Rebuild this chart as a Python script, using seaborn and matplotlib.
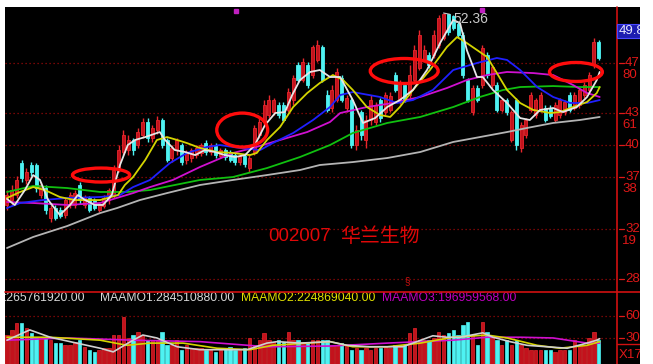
import numpy as np
import pandas as pd
import matplotlib
matplotlib.use("Agg")
import matplotlib.pyplot as plt
import matplotlib.transforms as mtrans
from matplotlib.patches import Ellipse, Rectangle
from matplotlib.lines import Line2D
import seaborn as sns

sns.set_theme(style="dark")
plt.rcParams['font.family'] = ['Liberation Sans', 'Noto Sans CJK SC', 'DejaVu Sans']

# ---------------- data (prices) ----------------
OPEN = [34.78, 35.23, 35.69, 38.62, 37.07, 38.44, 38.44, 35.69, 36.33, 33.59,
        34.50, 34.32, 33.86, 34.78, 34.78, 36.61, 34.78, 35.42, 35.23, 34.32,
        34.68, 35.23, 35.69, 37.98, 39.63, 39.81, 40.73, 40.27, 41.19, 42.38,
        40.91, 41.64, 42.56, 40.73, 39.08, 39.81, 40.27, 38.90, 39.08, 39.35,
        39.54, 40.45, 39.63, 40.18, 39.26, 39.81, 39.63, 39.35, 38.71, 39.26,
        38.16, 39.63, 41.19, 42.38, 43.02, 43.29, 43.93, 43.93, 43.48, 44.39,
        47.60, 46.22, 47.60, 46.68, 48.06, 49.25, 44.85, 43.66, 44.39, 46.41,
        43.66, 44.39, 40.27, 43.29, 40.73, 42.56, 42.38, 44.39, 43.29, 43.48,
        46.68, 44.39, 45.77, 44.85, 46.22, 47.32, 48.06, 48.51, 48.51, 49.43,
        50.07, 52.27, 52.08, 51.35, 50.34, 46.22, 43.29, 45.49, 45.77, 48.51,
        45.77, 45.77, 43.48, 44.39, 40.73, 44.39, 40.00, 41.19, 43.48, 43.02,
        43.48, 43.66, 43.66, 42.56, 43.02, 43.29, 44.85, 43.66, 43.93, 44.85,
        45.31, 47.60, 49.70]
CLOSE = [35.69, 36.15, 37.07, 37.25, 37.80, 37.80, 36.33, 36.61, 34.32, 34.50,
         33.59, 33.77, 35.23, 35.69, 35.87, 35.23, 35.42, 34.32, 34.50, 34.87,
         35.42, 36.15, 37.98, 39.81, 41.19, 40.73, 39.81, 41.46, 42.38, 40.91,
         41.83, 42.56, 40.27, 38.90, 40.00, 40.73, 38.71, 39.63, 39.81, 40.00,
         40.27, 39.63, 40.27, 39.35, 39.81, 39.17, 38.90, 38.71, 39.26, 38.53,
         39.08, 41.83, 42.38, 43.93, 44.39, 44.39, 43.02, 42.56, 45.12, 46.41,
         46.22, 47.87, 45.77, 49.25, 49.43, 46.22, 43.48, 45.31, 46.96, 44.39,
         44.57, 40.27, 41.64, 41.19, 42.56, 44.39, 43.93, 42.74, 44.85, 44.76,
         45.31, 46.04, 44.39, 46.68, 48.97, 50.34, 48.97, 47.60, 50.34, 51.90,
         52.27, 50.62, 50.99, 50.34, 46.68, 44.39, 45.49, 44.39, 49.15, 46.68,
         47.41, 43.48, 44.39, 43.29, 43.29, 40.27, 42.10, 42.56, 44.85, 44.39,
         44.85, 42.56, 42.93, 43.93, 44.39, 44.21, 43.48, 44.85, 45.31, 45.77,
         46.68, 49.70, 48.24]
HIGH = [36.15, 36.61, 37.43, 38.90, 38.16, 38.71, 38.62, 36.88, 36.61, 34.78,
        34.78, 34.59, 35.42, 35.97, 36.15, 36.88, 35.69, 35.60, 35.42, 35.05,
        35.69, 36.33, 38.44, 40.27, 41.64, 41.19, 40.91, 41.83, 42.74, 42.74,
        42.10, 42.93, 42.74, 40.91, 40.27, 40.91, 40.45, 39.81, 40.00, 40.27,
        40.45, 40.73, 40.45, 40.45, 40.00, 40.00, 39.81, 39.63, 39.45, 39.45,
        39.35, 42.10, 42.74, 44.39, 44.85, 44.57, 44.21, 44.21, 45.49, 46.68,
        47.87, 48.24, 47.87, 49.43, 49.89, 49.43, 45.31, 45.77, 47.32, 46.68,
        44.85, 44.57, 42.10, 43.48, 43.02, 44.85, 44.21, 44.57, 45.12, 45.12,
        46.96, 46.22, 46.04, 47.60, 49.43, 50.80, 49.43, 48.79, 50.80, 52.18,
        52.36, 52.27, 52.18, 51.54, 50.62, 46.41, 45.77, 45.77, 49.43, 48.79,
        47.60, 46.04, 44.57, 44.57, 43.48, 44.57, 42.38, 42.74, 45.12, 44.57,
        45.12, 43.93, 43.93, 44.21, 44.57, 44.39, 45.12, 45.12, 45.49, 46.04,
        46.96, 50.07, 49.89]
LOW = [34.32, 34.78, 35.42, 36.88, 36.70, 37.43, 35.97, 35.42, 33.95, 33.22,
       33.40, 33.59, 33.59, 34.50, 34.50, 34.87, 34.50, 34.13, 34.32, 34.13,
       34.50, 34.87, 35.42, 37.80, 39.35, 39.35, 39.35, 40.00, 40.91, 40.55,
       40.55, 41.28, 40.00, 38.71, 38.71, 39.35, 38.44, 38.53, 38.71, 39.08,
       39.26, 39.35, 39.35, 39.08, 39.08, 38.90, 38.71, 38.44, 38.44, 38.26,
       37.80, 39.35, 40.91, 42.10, 42.74, 43.02, 42.74, 42.38, 43.29, 43.93,
       46.04, 46.04, 45.49, 46.41, 47.87, 46.04, 43.29, 43.29, 44.21, 44.21,
       43.29, 40.00, 39.81, 40.73, 40.00, 42.10, 42.10, 42.38, 43.02, 43.29,
       45.12, 44.03, 44.21, 44.57, 46.04, 47.14, 47.87, 47.32, 48.24, 49.15,
       49.89, 50.34, 50.80, 50.07, 46.41, 44.21, 43.02, 44.21, 45.49, 46.41,
       45.49, 43.29, 43.29, 43.02, 40.55, 39.81, 39.63, 40.91, 43.29, 42.74,
       43.29, 42.38, 42.74, 42.38, 42.74, 43.02, 43.29, 43.48, 43.66, 44.57,
       45.12, 47.32, 48.06]
VOLUME = [34, 41, 50, 50, 44, 37, 30, 31, 30, 27,
          23, 23, 20, 20, 25, 27, 18, 14, 11, 14,
          16, 16, 34, 34, 59, 30, 34, 38, 34, 27,
          27, 27, 38, 20, 20, 27, 14, 20, 16, 16,
          16, 14, 14, 11, 14, 16, 18, 14, 14, 16,
          30, 20, 27, 37, 27, 25, 27, 25, 38, 27,
          27, 25, 25, 27, 27, 27, 27, 20, 20, 23,
          20, 14, 16, 14, 16, 14, 16, 16, 18, 16,
          20, 20, 20, 37, 44, 27, 27, 27, 30, 38,
          34, 37, 41, 34, 48, 52, 34, 20, 52, 38,
          30, 27, 20, 27, 20, 27, 20, 16, 14, 14,
          14, 14, 14, 11, 14, 14, 14, 27, 20, 20,
          30, 38, 27]

# moving-average curves (candle index, value)
MA5_IDX = [0, 1.6, 3.7, 5.4, 6.8, 8.5, 10.9, 13.0, 14.6, 16.1, 18.1, 19.8, 21.6, 23.3,
           24.9, 26.4, 28.5, 31.5, 32.6, 34.6, 36.7, 38.8, 40.8, 42.9, 44.9, 47.0, 49.1,
           51.1, 53.2, 55.3, 57.3, 58.8, 60.4, 62.5, 64.5, 66.6, 68.7, 71.3, 73.4, 75.9,
           78.4, 81.0, 83.7, 86.6, 89.3, 92.0, 93.4, 94.8, 96.9, 98.1, 100.2, 103.1,
           105.8, 107.8, 109.9, 112.6, 114.6, 117.5, 119.6, 121.6, 122.2]
MA5_VAL = [35.33, 34.78, 36.15, 37.52, 37.07, 35.23, 33.86, 34.78, 35.69, 35.23, 34.78,
           34.78, 35.69, 38.44, 40.27, 40.73, 41.00, 41.46, 40.73, 39.81, 39.63, 39.35,
           39.81, 39.63, 39.35, 39.17, 39.35, 40.27, 42.10, 43.20, 43.29, 44.85, 46.22,
           46.96, 47.14, 46.50, 46.50, 44.39, 42.29, 42.74, 43.75, 44.39, 45.31, 47.14,
           49.61, 51.72, 51.44, 48.97, 46.50, 46.50, 45.31, 44.12, 42.74, 42.56, 43.48,
           43.66, 43.29, 43.75, 44.67, 46.22, 46.96]
MA10_IDX = [0, 2.7, 5.4, 7.8, 10.9, 14.0, 19.2, 22.9, 24.3, 26.0, 28.5, 30.9, 33.0, 35.1,
            37.1, 39.8, 43.3, 46.6, 50.1, 51.5, 53.6, 56.3, 59.0, 61.9, 64.5, 67.2, 69.3,
            71.3, 74.2, 76.9, 79.0, 81.0, 83.7, 87.2, 90.7, 92.8, 94.8, 96.9, 99.0, 101.0,
            103.1, 105.8, 108.5, 112.0, 114.0, 116.7, 119.6, 121.6, 122.2]
MA10_VAL = [35.42, 35.97, 36.42, 36.15, 35.51, 35.23, 35.23, 35.69, 36.61, 37.34, 38.90,
            40.73, 41.00, 40.73, 40.45, 40.00, 39.63, 39.54, 39.35, 39.54, 40.73, 41.92,
            43.75, 45.03, 45.95, 46.68, 46.22, 45.31, 43.75, 43.02, 42.84, 43.75, 45.31,
            47.14, 49.25, 50.16, 49.61, 48.97, 48.33, 46.86, 45.31, 44.12, 43.48, 43.20,
            43.29, 43.75, 44.21, 45.03, 45.58]
MA20_IDX = [0, 2.7, 7.4, 12.4, 19.2, 23.3, 26.0, 29.5, 33.6, 37.1, 41.2, 43.9, 48.0, 52.2,
            54.8, 59.0, 63.1, 66.6, 68.7, 71.3, 76.9, 80.4, 83.7, 87.8, 92.0, 96.9, 101.0,
            103.1, 105.8, 109.3, 112.6, 116.1, 119.6, 122.2]
MA20_VAL = [34.50, 34.96, 35.23, 35.42, 35.51, 35.69, 36.42, 37.07, 38.62, 39.54, 40.09,
            40.27, 40.00, 39.81, 40.45, 41.37, 42.56, 43.75, 44.85, 45.12, 44.67, 44.12,
            44.39, 45.31, 47.14, 47.78, 48.24, 48.06, 47.14, 45.58, 44.67, 44.12, 44.12,
            44.39]
MA30_IDX = [0, 5.4, 12.4, 19.2, 23.3, 26.0, 29.5, 34.2, 39.8, 46.6, 50.7, 56.3, 61.9, 66.6,
            68.7, 74.2, 79.6, 85.2, 90.7, 94.8, 99.0, 103.1, 108.5, 112.6, 116.7, 119.6,
            122.2]
MA30_VAL = [35.05, 34.96, 34.78, 34.96, 35.51, 35.87, 36.42, 37.07, 38.26, 39.54, 40.00,
            40.73, 41.46, 42.38, 43.20, 43.75, 44.12, 44.67, 45.49, 46.22, 46.68, 46.96,
            46.86, 46.68, 45.77, 45.03, 44.67]
MA60_IDX = [0, 5.4, 12.4, 19.2, 24.7, 29.5, 33.6, 39.8, 46.6, 53.6, 60.4, 66.6, 71.3, 78.4,
            85.2, 92.0, 97.5, 102.3, 105.8, 112.6, 118.1, 122.2]
MA60_VAL = [35.97, 36.52, 36.33, 35.97, 35.97, 36.15, 36.52, 37.07, 37.34, 38.16, 39.17,
            40.27, 41.37, 42.29, 42.84, 43.75, 44.67, 45.31, 45.58, 45.67, 45.58, 45.58]
MA120_IDX = [0, 5.4, 12.4, 19.2, 22.7, 27.4, 33.0, 39.8, 46.6, 53.6, 60.4, 64.5, 71.3, 78.4,
             85.2, 92.0, 97.5, 103.1, 107.2, 112.6, 118.1, 122.2]
MA120_VAL = [30.84, 31.85, 32.85, 34.04, 34.50, 35.23, 35.87, 36.61, 37.07, 37.52, 37.98,
             38.44, 38.71, 39.08, 39.63, 40.55, 41.00, 41.46, 41.83, 42.29, 42.56, 42.84]

VMA1_IDX = [0, 4.7, 8.9, 13.0, 19.2, 21.9, 26.0, 28.0, 30.9, 35.1, 39.8, 45.4, 49.5, 53.6,
            55.7, 60.4, 66.6, 70.1, 74.8, 81.6, 84.5, 87.8, 90.7, 93.4, 98.1, 100.2, 103.7,
            107.2, 111.3, 115.5, 119.6, 121.6, 122.2]
VMA1_VAL = [27, 41, 31, 25, 16, 11, 27, 34, 30, 18, 14, 14, 14, 23, 25, 23, 25, 20, 18, 18,
            25, 33, 31, 31, 37, 31, 25, 20, 18, 16, 23, 27, 29]
VMA2_IDX = [0, 8.9, 19.2, 24.7, 29.5, 36.3, 43.3, 50.1, 54.8, 66.6, 71.3, 78.4, 85.2, 92.0,
            99.0, 103.1, 109.3, 114.0, 119.6, 122.2]
VMA2_VAL = [31, 31, 27, 20, 23, 23, 16, 14, 20, 25, 18, 18, 23, 31, 34, 30, 20, 16, 20, 25]
VMA3_IDX = [0, 12.4, 26.0, 39.8, 53.6, 66.6, 78.4, 85.2, 92.0, 99.0, 105.8, 112.6, 119.6, 122.2]
VMA3_VAL = [27, 30, 27, 25, 18, 19, 23, 25, 27, 31, 31, 30, 23, 23]

# price-axis labels (as shown, truncated by the screenshot)
MAIN_TICK_PRICES = [47.80, 43.20, 40.27, 37.38, 32.58, 28.00]
MAIN_TICK_TOP = ["47", "43", "40", "37", "32", "28"]
MAIN_TICK_BOTTOM = ["80", "61", "", "38", "19", ""]
VOL_TICKS = [60, 30]
VOL_TICK_LABELS = ["60", "30"]

# annotations
ELLIPSE_IDX = [19.4, 48.5, 81.9, 117.3]
ELLIPSE_PRICE = [37.52, 41.64, 47.05, 46.96]
ELLIPSE_W = [11.8, 10.5, 14.0, 10.9]
ELLIPSE_H = [1.28, 3.11, 2.29, 1.74]
HIGH_LABEL = "52.36"
STOCK_CODE = "002007"
STOCK_NAME = "华兰生物"
TITLE_POS = (53.8, 68.7, 31.85)   # code index, name index, price level
LEGEND_TEXTS = [":265761920.00", "MAAMO1:284510880.00", "MAAMO2:224869040.00",
                "MAAMO3:196959568.00"]
LEGEND_COLORS = ["#d8d8d8", "#d8d8d8", "#e0e000", "#c000c0"]
LAST_PRICE_LABEL = "49.8"

# ---------------- layout ----------------
W, H = 653, 364
DPI = 100
fig = plt.figure(figsize=(W / DPI, H / DPI), dpi=DPI, facecolor="white")


def fx(px):
    return px / W


def fy(py):
    return 1 - py / H


fig.add_artist(Rectangle((fx(5), 0), fx(640) - fx(5), fy(7), transform=fig.transFigure,
                         facecolor="black", edgecolor="none", zorder=-5))

ax = fig.add_axes([fx(5), fy(292), fx(617) - fx(5), (292 - 7) / H])
axv = fig.add_axes([fx(5), 0, fx(617) - fx(5), (364 - 292) / H])
for a in (ax, axv):
    a.set_facecolor("black")
    for s in a.spines.values():
        s.set_visible(False)
    a.set_xticks([])
    a.set_yticks([])
    a.grid(False)

N = len(CLOSE)
idx = np.arange(N)
ax.set_xlim(-0.41, 125.77)
ax.set_ylim(26.81, 52.91)
axv.set_xlim(-0.41, 125.77)
VOL_FLOOR = -5.5
axv.set_ylim(VOL_FLOOR, 92.7)

RED = "#c3121c"
RED_EDGE = "#e8262c"
CYAN = "#4ef2f2"
GRID_RED = "#9a0a0a"
LABEL_RED = "#e01818"

o = np.array(OPEN)
c = np.array(CLOSE)
up = c >= o
colors = np.where(up, RED, CYAN)
edges = np.where(up, RED_EDGE, CYAN)

# grid lines
for p in MAIN_TICK_PRICES:
    ax.axhline(p, color=GRID_RED, lw=0.9, ls=(0, (1, 2.2)), zorder=1)
for v in VOL_TICKS:
    axv.axhline(v, color=GRID_RED, lw=0.9, ls=(0, (1, 2.2)), zorder=1)

# candles
ax.vlines(idx, LOW, HIGH, colors=edges, lw=1.0, zorder=3)
ax.bar(idx, c - o, bottom=o, width=0.62, color=colors, edgecolor=edges, lw=0.6, zorder=4)

# moving averages via seaborn
ma_specs = [
    (MA120_IDX, MA120_VAL, "#b4b4b4"),
    (MA60_IDX, MA60_VAL, "#10c010"),
    (MA30_IDX, MA30_VAL, "#d010d0"),
    (MA20_IDX, MA20_VAL, "#2020ff"),
    (MA10_IDX, MA10_VAL, "#d4d400"),
    (MA5_IDX, MA5_VAL, "#e6e6e6"),
]
for xs, ys, col in ma_specs:
    df = pd.DataFrame({"i": xs, "v": ys})
    sns.lineplot(data=df, x="i", y="v", ax=ax, color=col, lw=1.3, legend=False,
                 estimator=None, sort=False, zorder=5)

# ellipses
for ex, ey, ew, eh in zip(ELLIPSE_IDX, ELLIPSE_PRICE, ELLIPSE_W, ELLIPSE_H):
    ax.add_patch(Ellipse((ex, ey), ew, eh, fill=False, edgecolor="#ff0c0c", lw=2.4, zorder=8))

# high label
hi_i = int(np.argmax(HIGH))
ax.annotate(HIGH_LABEL, xy=(hi_i, HIGH[hi_i]), xytext=(7, -4), textcoords="offset points",
            color="#c8c8c8", fontsize=10, va="center", ha="left", zorder=9,
            arrowprops=dict(arrowstyle="-", color="#c8c8c8", lw=0.8, shrinkA=0, shrinkB=0))
ax.plot([47.2, 97.9], [52.54, 52.63], ls="none", marker="s", ms=2.5, color="#c020c0", zorder=9)

# stock code and name
ax.text(TITLE_POS[0], TITLE_POS[2], STOCK_CODE, color="#e00808", fontsize=13.4, va="center",
        ha="left", family=["Liberation Sans", "DejaVu Sans"], zorder=9)
ax.text(TITLE_POS[1], TITLE_POS[2], STOCK_NAME, color="#e00808", fontsize=14.3, va="center",
        ha="left", family=["Noto Sans CJK SC", "DejaVu Sans"], zorder=9)
ax.text(82.5, 27.8, "§", color="#d01010", fontsize=7, va="center", ha="center", zorder=9)

# right-side price labels
bt = mtrans.blended_transform_factory(ax.transAxes, ax.transData)
for p, t1, t2 in zip(MAIN_TICK_PRICES, MAIN_TICK_TOP, MAIN_TICK_BOTTOM):
    ax.plot([(619 - 5) / 612, (624 - 5) / 612], [p, p], transform=bt, color=LABEL_RED,
            lw=0.9, clip_on=False)
    ax.text((625 - 5) / 612, p, t1, transform=bt, color=LABEL_RED, fontsize=9.5,
            va="center", ha="left", clip_on=False)
    if t2:
        ax.annotate(t2, xy=((622 - 5) / 612, p), xycoords=bt, xytext=(0, -8.6),
                    textcoords="offset points", color=LABEL_RED, fontsize=9.5,
                    va="center", ha="left", annotation_clip=False)

btv = mtrans.blended_transform_factory(axv.transAxes, axv.transData)
for v, t in zip(VOL_TICKS, VOL_TICK_LABELS):
    axv.plot([(619 - 5) / 612, (624 - 5) / 612], [v, v], transform=btv, color=LABEL_RED,
             lw=0.9, clip_on=False)
    axv.text((625 - 5) / 612, v, t, transform=btv, color=LABEL_RED, fontsize=9.5,
             va="center", ha="left", clip_on=False)

# volume bars
vol = np.array(VOLUME, dtype=float)
axv.bar(idx, vol - VOL_FLOOR, bottom=VOL_FLOOR, width=0.7, color=colors, edgecolor=edges,
        lw=0.5, zorder=3)
for xs, ys, col in [(VMA3_IDX, VMA3_VAL, "#d010d0"), (VMA2_IDX, VMA2_VAL, "#d4d400"),
                    (VMA1_IDX, VMA1_VAL, "#d0d0d0")]:
    df = pd.DataFrame({"i": xs, "v": ys})
    sns.lineplot(data=df, x="i", y="v", ax=axv, color=col, lw=1.2, legend=False,
                 estimator=None, sort=False, zorder=5)
axv.set_xlabel("")
axv.set_ylabel("")
ax.set_xlabel("")
ax.set_ylabel("")

# volume legend line
leg_x = [4, 100, 241, 382]
for lx, txt, col in zip(leg_x, LEGEND_TEXTS, LEGEND_COLORS):
    fig.text(fx(lx), fy(298), txt, color=col, fontsize=8.7, va="center", ha="left")

# frame lines
fig.add_artist(Line2D([fx(617), fx(617)], [fy(7), 0], color="#d01010", lw=1.2,
                      transform=fig.transFigure, zorder=6))
fig.add_artist(Line2D([fx(5), fx(640)], [fy(292), fy(292)], color="#d01010", lw=1.2,
                      transform=fig.transFigure, zorder=6))
fig.add_artist(Line2D([fx(617), fx(640)], [fy(344), fy(344)], color="#d01010", lw=1.0,
                      transform=fig.transFigure, zorder=6))
fig.text(fx(619), fy(355), "X17", color=LABEL_RED, fontsize=9.5, va="center", ha="left",
         zorder=6)

# last price box
fig.add_artist(Rectangle((fx(617), fy(38)), fx(640) - fx(617), (38 - 24) / H,
                         transform=fig.transFigure, facecolor="#1c1cb0", edgecolor="#4848ff",
                         lw=0.8, zorder=7))
fig.text(fx(618.5), fy(31), LAST_PRICE_LABEL, color="#e8e8ff", fontsize=9.5, va="center",
         ha="left", zorder=8)

# white margin on the right (screenshot crop)
fig.add_artist(Rectangle((fx(640), 0), 1 - fx(640), 1, transform=fig.transFigure,
                         facecolor="white", edgecolor="none", zorder=20))

fig.savefig("out.png", dpi=DPI, facecolor="white")
